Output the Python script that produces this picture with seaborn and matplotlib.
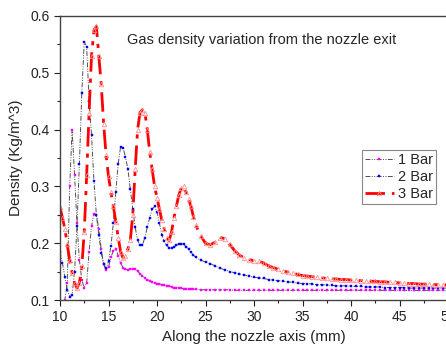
import numpy as np
import pandas as pd
import matplotlib
matplotlib.use("Agg")
import matplotlib.pyplot as plt
from matplotlib.ticker import MultipleLocator, FormatStrFormatter
import seaborn as sns

# positions along the axis (mm)
x_mm = [10.0, 10.25, 10.5, 10.75, 11.0, 11.25, 11.5, 11.75, 12.0, 12.25, 12.5, 12.75,
        13.0, 13.25, 13.5, 13.75, 14.0, 14.25, 14.5, 14.75, 15.0, 15.25, 15.5, 15.75,
        16.0, 16.25, 16.5, 16.75, 17.0, 17.25, 17.5, 17.75, 18.0, 18.25, 18.5, 18.75,
        19.0, 19.25, 19.5, 19.75, 20.0, 20.25, 20.5, 20.75, 21.0, 21.25, 21.5, 21.75,
        22.0, 22.25, 22.5, 22.75, 23.0, 23.25, 23.5, 23.75, 24.0,
        24.5, 25.0, 25.5, 26.0, 26.5, 27.0, 27.5, 28.0, 28.5, 29.0, 29.5, 30.0,
        30.5, 31.0, 31.5, 32.0, 32.5, 33.0, 33.5, 34.0, 34.5, 35.0, 35.5, 36.0,
        36.5, 37.0, 37.5, 38.0, 38.5, 39.0, 39.5, 40.0, 40.5, 41.0, 41.5, 42.0,
        42.5, 43.0, 43.5, 44.0, 44.5, 45.0, 45.5, 46.0, 46.5, 47.0, 47.5, 48.0,
        48.5, 49.0, 49.5, 50.0]

bar1 = [0.06, 0.07, 0.10, 0.13, 0.30, 0.40, 0.32, 0.235, 0.17, 0.135, 0.122, 0.13,
        0.185, 0.23, 0.252, 0.25, 0.225, 0.19, 0.163, 0.152, 0.158, 0.175, 0.187, 0.189,
        0.178, 0.165, 0.157, 0.154, 0.153, 0.154, 0.155, 0.155, 0.151, 0.146, 0.142, 0.139,
        0.136, 0.134, 0.132, 0.130, 0.129, 0.128, 0.127, 0.126, 0.125, 0.124, 0.123, 0.122,
        0.122, 0.121, 0.121, 0.120, 0.120, 0.119, 0.119, 0.119, 0.119,
        0.118, 0.118, 0.118, 0.118, 0.118, 0.118, 0.118, 0.117, 0.117, 0.117, 0.117, 0.117,
        0.117, 0.117, 0.117, 0.117, 0.117, 0.117, 0.117, 0.117, 0.117, 0.117, 0.117, 0.117,
        0.117, 0.117, 0.117, 0.117, 0.117, 0.117, 0.117, 0.117, 0.117, 0.117, 0.117, 0.117,
        0.117, 0.117, 0.117, 0.117, 0.117, 0.117, 0.117, 0.117, 0.117, 0.117, 0.117, 0.117,
        0.117, 0.117, 0.117, 0.117]

bar2 = [0.185, 0.165, 0.14, 0.118, 0.106, 0.108, 0.15, 0.23, 0.34, 0.465, 0.555, 0.545,
        0.45, 0.39, 0.31, 0.25, 0.215, 0.182, 0.163, 0.156, 0.168, 0.195, 0.235, 0.29,
        0.34, 0.37, 0.368, 0.352, 0.33, 0.295, 0.26, 0.228, 0.205, 0.196, 0.197, 0.21,
        0.228, 0.245, 0.26, 0.265, 0.255, 0.235, 0.215, 0.203, 0.196, 0.192, 0.191, 0.193,
        0.196, 0.198, 0.199, 0.198, 0.194, 0.189, 0.184, 0.179, 0.175,
        0.170, 0.167, 0.164, 0.160, 0.156, 0.153, 0.150, 0.148, 0.146, 0.144, 0.142, 0.140,
        0.139, 0.138, 0.136, 0.135, 0.134, 0.133, 0.132, 0.131, 0.130, 0.129, 0.129, 0.128,
        0.127, 0.127, 0.126, 0.126, 0.125, 0.125, 0.125, 0.124, 0.124, 0.124, 0.123, 0.123,
        0.123, 0.123, 0.122, 0.122, 0.122, 0.122, 0.122, 0.121, 0.121, 0.121, 0.121, 0.121,
        0.121, 0.121, 0.121, 0.121]

bar3 = [0.263, 0.245, 0.225, 0.198, 0.17, 0.148, 0.13, 0.121, 0.13, 0.16, 0.22, 0.32,
        0.43, 0.53, 0.575, 0.582, 0.53, 0.48, 0.41, 0.355, 0.318, 0.29, 0.265, 0.238,
        0.21, 0.185, 0.174, 0.178, 0.19, 0.205, 0.25, 0.33, 0.40, 0.43, 0.435, 0.43,
        0.40, 0.36, 0.33, 0.30, 0.28, 0.26, 0.24, 0.225, 0.21, 0.205, 0.22, 0.245,
        0.265, 0.285, 0.297, 0.300, 0.29, 0.278, 0.265, 0.247, 0.232,
        0.213, 0.200, 0.197, 0.202, 0.210, 0.208, 0.198, 0.187, 0.179, 0.174, 0.171, 0.169,
        0.168, 0.165, 0.160, 0.157, 0.154, 0.151, 0.149, 0.147, 0.145, 0.143, 0.142, 0.141,
        0.140, 0.139, 0.138, 0.137, 0.137, 0.136, 0.136, 0.135, 0.135, 0.134, 0.134, 0.133,
        0.133, 0.132, 0.132, 0.131, 0.131, 0.130, 0.130, 0.129, 0.129, 0.128, 0.128, 0.128,
        0.127, 0.127, 0.127, 0.126]

df = pd.DataFrame({"x": x_mm, "1 Bar": bar1, "2 Bar": bar2, "3 Bar": bar3})

sns.set_style("ticks")
plt.rcParams["font.family"] = ["Liberation Sans", "DejaVu Sans"]

fig = plt.figure(figsize=(4.46, 3.44), dpi=100)
ax = fig.add_axes([60 / 446, 44 / 344, 388 / 446, 284 / 344])

dash_dot_dot = (0, (5, 1.5, 1, 1.5, 1, 1.5))
sns.lineplot(data=df, x="x", y="1 Bar", ax=ax, label="1 Bar", color="#505050",
             linewidth=0.7, linestyle=dash_dot_dot, marker="s", markersize=1.6,
             markerfacecolor="#ff00ff", markeredgecolor="#ff00ff", markeredgewidth=0.3)
sns.lineplot(data=df, x="x", y="2 Bar", ax=ax, label="2 Bar", color="#505050",
             linewidth=0.7, linestyle=dash_dot_dot, marker="s", markersize=1.6,
             markerfacecolor="#0000ff", markeredgecolor="#0000ff", markeredgewidth=0.3)
sns.lineplot(data=df, x="x", y="3 Bar", ax=ax, label="3 Bar", color="#ff0000",
             linewidth=2, linestyle=(0, (7, 2.5, 1.5, 2.5)), marker="^", markersize=3.2,
             markerfacecolor="none", markeredgecolor="#ff9090", markeredgewidth=0.6)

ax.set_xlim(10, 50)
ax.set_ylim(0.1, 0.6)
ax.xaxis.set_major_locator(MultipleLocator(5))
ax.xaxis.set_minor_locator(MultipleLocator(2.5))
ax.yaxis.set_major_locator(MultipleLocator(0.1))
ax.yaxis.set_minor_locator(MultipleLocator(0.05))
ax.yaxis.set_major_formatter(FormatStrFormatter("%.1f"))
ax.tick_params(which="major", direction="out", length=4, width=0.8, labelsize=10, colors="#222222")
ax.tick_params(which="minor", direction="out", length=2, width=0.8)
for side in ["left", "bottom", "top", "right"]:
    ax.spines[side].set_visible(True)
    ax.spines[side].set_color("#444444")
    ax.spines[side].set_linewidth(1)

ax.set_xlabel("Along the nozzle axis (mm)", fontsize=11, labelpad=4)
ax.set_ylabel("Density (Kg/m^3)", fontsize=11, labelpad=5)

ax.text(0.173, 0.915, "Gas density variation from the nozzle exit", transform=ax.transAxes,
        fontsize=10.5, va="center", ha="left")

leg = ax.legend(loc="upper left", bbox_to_anchor=(0.778, 0.528), fontsize=10.5,
                frameon=True, fancybox=False, edgecolor="#888888", framealpha=1,
                handlelength=2.0, handletextpad=0.3, borderpad=0.2, labelspacing=0.2,
                borderaxespad=0)
leg.get_frame().set_linewidth(0.8)

fig.savefig("out.png", dpi=100)
